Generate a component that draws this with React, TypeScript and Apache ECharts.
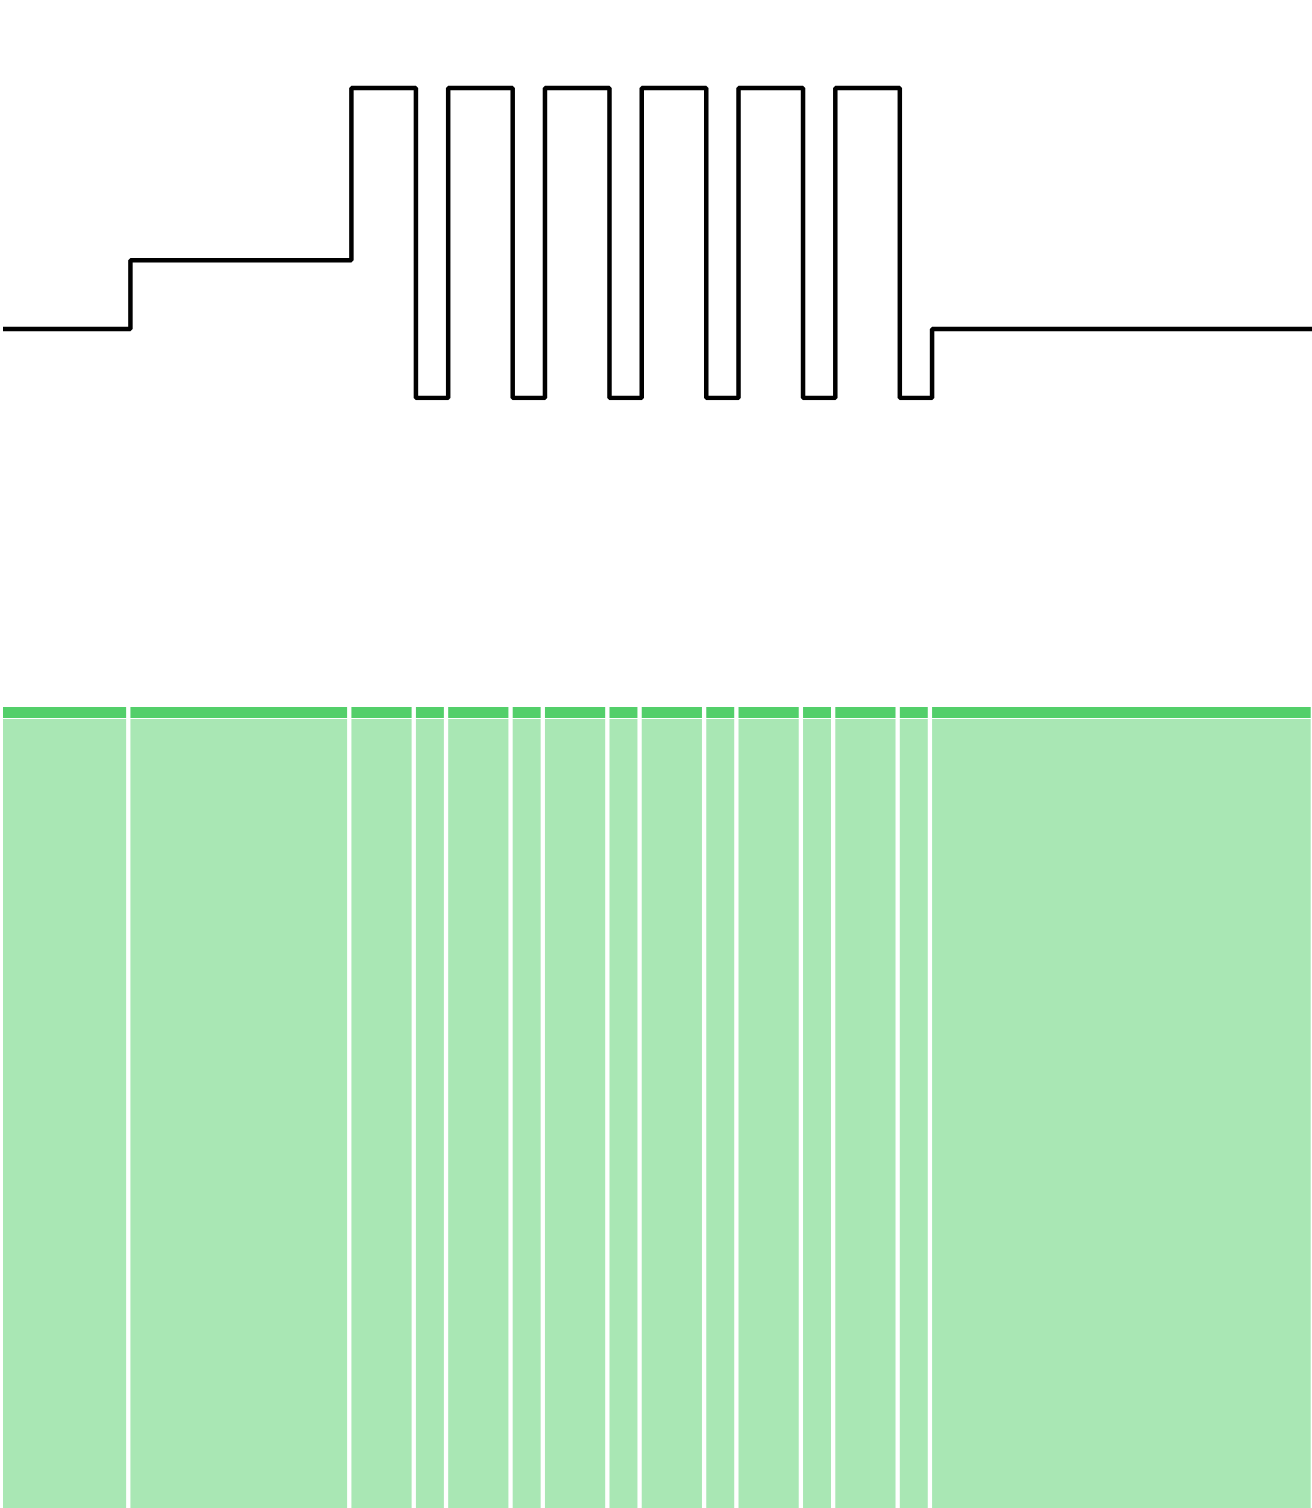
import React, { useRef, useEffect } from "react";
import * as echarts from "echarts";

// times where the signal changes level, and the level it holds after each edge
const edgeTimes = [0, 39.5, 108, 128, 138, 158, 168, 188, 198, 218, 228, 248, 258, 278, 288];
const levels = [0.2, 0.4, 0.9, 0, 0.9, 0, 0.9, 0, 0.9, 0, 0.9, 0, 0.9, 0, 0.2];
const endTime = 406.7;

const GREEN = "#53cf6a";

const App = function () {
  const chart = useRef<HTMLDivElement>(null);

  useEffect(() => {
    if (!chart.current) return;
    const myChart = echarts.init(chart.current, undefined, { renderer: "svg" });

    const lineData = edgeTimes.map((t, i) => [t, levels[i]]);
    lineData.push([endTime, levels[levels.length - 1]]);

    const segments = edgeTimes.map((t, i) => [
      t,
      i < edgeTimes.length - 1 ? edgeTimes[i + 1] : endTime,
    ]);

    const option = {
      animation: false,
      grid: [
        { left: 3, right: 0, top: 53.6, bottom: 1110 },
        { left: 3, right: 0, top: 707, bottom: 0 },
      ],
      xAxis: [0, 1].map((g) => ({
        type: "value",
        gridIndex: g,
        min: 0,
        max: endTime,
        show: false,
      })),
      yAxis: [0, 1].map((g) => ({
        type: "value",
        gridIndex: g,
        min: 0,
        max: 1,
        show: false,
      })),
      series: [
        {
          type: "line",
          xAxisIndex: 0,
          yAxisIndex: 0,
          step: "end",
          showSymbol: false,
          data: lineData,
          lineStyle: { color: "#000", width: 4.5 },
        },
        {
          type: "custom",
          xAxisIndex: 1,
          yAxisIndex: 1,
          encode: { x: [0, 1] },
          data: segments,
          renderItem: (params: any, api: any) => {
            const start = api.coord([api.value(0), 1]);
            const end = api.coord([api.value(1), 0]);
            const w = end[0] - start[0] - 4.3;
            const top = start[1];
            return {
              type: "group",
              children: [
                {
                  type: "rect",
                  shape: { x: start[0], y: top, width: w, height: 11 },
                  style: { fill: GREEN },
                },
                {
                  type: "rect",
                  shape: { x: start[0], y: top + 12, width: w, height: end[1] - top - 12 },
                  style: { fill: GREEN, opacity: 0.5 },
                },
              ],
            };
          },
        },
      ],
    };
    myChart.setOption(option as any);
    return () => {
      myChart.dispose();
    };
  }, []);

  return (
    <div
      style={{
        position: "absolute",
        left: 0,
        top: 0,
        width: 1312,
        height: 1508,
        overflow: "hidden",
        background: "#fff",
      }}
    >
      <div ref={chart} style={{ width: 1315, height: 1508 }}></div>
    </div>
  );
};

export default App;
